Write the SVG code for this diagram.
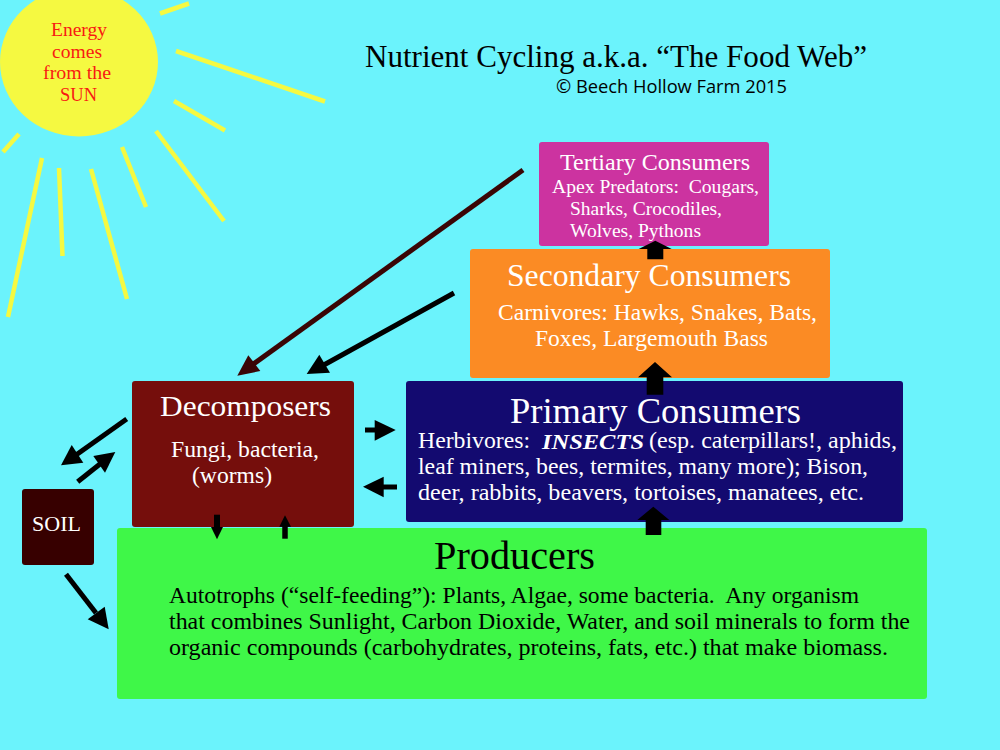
<svg xmlns="http://www.w3.org/2000/svg" width="1000" height="750" viewBox="0 0 1000 750">
<style>
text{font-family:"Liberation Serif","Times New Roman",serif;white-space:pre}
.w{fill:#fff}.k{fill:#000}
.ray{stroke:#f5f941;stroke-width:4.5;fill:none}
.box{stroke:none}
.c{stroke:#000;stroke-width:5;fill:none}
.h{fill:#000;stroke:none}
</style>
<rect width="1000" height="750" fill="#6bf3fc"/>
<g id="sun">
<ellipse cx="79" cy="62" rx="79" ry="74.5" fill="#f5f941"/>
<g font-size="19" fill="#f81a12">
<text x="51" y="36" textLength="56" lengthAdjust="spacingAndGlyphs">Energy</text>
<text x="52" y="58" textLength="50" lengthAdjust="spacingAndGlyphs">comes</text>
<text x="43" y="79" textLength="68" lengthAdjust="spacingAndGlyphs">from the</text>
<text x="60" y="101" textLength="37" lengthAdjust="spacingAndGlyphs">SUN</text>
</g>
</g>
<g id="rays">
<line class="ray" x1="160" y1="13.5" x2="189" y2="3.5"/>
<line class="ray" x1="176" y1="51" x2="325" y2="101.5"/>
<line class="ray" x1="174" y1="101" x2="225" y2="130.5"/>
<line class="ray" x1="156" y1="131" x2="224" y2="221"/>
<line class="ray" x1="122" y1="147" x2="146" y2="207"/>
<line class="ray" x1="91" y1="169" x2="127" y2="299"/>
<line class="ray" x1="59" y1="168" x2="62.5" y2="256"/>
<line class="ray" x1="42" y1="158" x2="8" y2="317"/>
<line class="ray" x1="19" y1="134" x2="3" y2="152"/>
</g>
<g id="title" class="k">
<text x="365" y="67" font-size="32" textLength="502" lengthAdjust="spacingAndGlyphs">Nutrient Cycling a.k.a. “The Food Web”</text>
<text x="556" y="93" font-size="18.5" textLength="231" lengthAdjust="spacingAndGlyphs" style="font-family:'Open Sans','Noto Sans',sans-serif">© Beech Hollow Farm 2015</text>
</g>
<g id="producers">
<rect class="box" x="117" y="528" width="810" height="171" rx="3" fill="#3ff748"/>
<text class="k" x="434" y="569" font-size="39" textLength="161" lengthAdjust="spacingAndGlyphs">Producers</text>
<g class="k" font-size="23">
<text x="169" y="603" textLength="690" lengthAdjust="spacingAndGlyphs">Autotrophs (“self-feeding”): Plants, Algae, some bacteria.  Any organism</text>
<text x="169" y="629" textLength="741" lengthAdjust="spacingAndGlyphs">that combines Sunlight, Carbon Dioxide, Water, and soil minerals to form the</text>
<text x="169" y="655" textLength="719" lengthAdjust="spacingAndGlyphs">organic compounds (carbohydrates, proteins, fats, etc.) that make biomass.</text>
</g>
</g>
<g id="primary-consumers">
<rect class="box" x="406" y="381" width="497" height="141" rx="3" fill="#130a70"/>
<text class="w" x="510" y="422.5" font-size="35" textLength="291" lengthAdjust="spacingAndGlyphs">Primary Consumers</text>
<g class="w" font-size="23">
<text x="418" y="448" textLength="112" lengthAdjust="spacingAndGlyphs">Herbivores:</text>
<text x="542" y="448.5" textLength="102" lengthAdjust="spacingAndGlyphs" font-weight="bold" font-style="italic" font-size="22">INSECTS</text>
<text x="649" y="448" textLength="248" lengthAdjust="spacingAndGlyphs">(esp. caterpillars!, aphids,</text>
<text x="418" y="474" textLength="450" lengthAdjust="spacingAndGlyphs">leaf miners, bees, termites, many more); Bison,</text>
<text x="418" y="500" textLength="446" lengthAdjust="spacingAndGlyphs">deer, rabbits, beavers, tortoises, manatees, etc.</text>
</g>
</g>
<g id="secondary-consumers">
<rect class="box" x="470" y="249" width="360" height="129" rx="3" fill="#fb8b24"/>
<text class="w" x="507" y="286" font-size="31" textLength="284" lengthAdjust="spacingAndGlyphs">Secondary Consumers</text>
<g class="w" font-size="23">
<text x="498" y="320" textLength="319" lengthAdjust="spacingAndGlyphs">Carnivores: Hawks, Snakes, Bats,</text>
<text x="535" y="346" textLength="233" lengthAdjust="spacingAndGlyphs">Foxes, Largemouth Bass</text>
</g>
</g>
<g id="tertiary-consumers">
<rect class="box" x="539" y="142" width="230" height="104" rx="3" fill="#cc33a0"/>
<text class="w" x="560" y="170" font-size="23" textLength="190" lengthAdjust="spacingAndGlyphs">Tertiary Consumers</text>
<g class="w" font-size="19.5">
<text x="552" y="193" textLength="207" lengthAdjust="spacingAndGlyphs">Apex Predators:  Cougars,</text>
<text x="570" y="215" textLength="152" lengthAdjust="spacingAndGlyphs">Sharks, Crocodiles,</text>
<text x="570" y="237" textLength="131" lengthAdjust="spacingAndGlyphs">Wolves, Pythons</text>
</g>
</g>
<g id="decomposers">
<rect class="box" x="132" y="381" width="222" height="146" rx="3" fill="#750e0c"/>
<text class="w" x="160" y="415.5" font-size="29" textLength="171" lengthAdjust="spacingAndGlyphs">Decomposers</text>
<g class="w" font-size="23">
<text x="171" y="457" textLength="148" lengthAdjust="spacingAndGlyphs">Fungi, bacteria,</text>
<text x="192" y="483" textLength="80" lengthAdjust="spacingAndGlyphs">(worms)</text>
</g>
</g>
<g id="soil">
<rect class="box" x="22" y="489" width="72" height="76" rx="3" fill="#370000"/>
<text class="w" x="32" y="531" font-size="21" textLength="49" lengthAdjust="spacingAndGlyphs">SOIL</text>
</g>
<g id="connectors">
<line x1="523" y1="170" x2="252" y2="365" stroke="#3a0505" stroke-width="5"/>
<polygon points="237.3,375.7 248.3,355.3 260.3,371" fill="#3a0505"/>
<line class="c" x1="454" y1="293" x2="322" y2="366"/>
<polygon class="h" points="306.7,374 319.3,354.7 330,372.7"/>
<line class="c" x1="126.7" y1="419" x2="76" y2="455"/>
<polygon class="h" points="61,465.3 71.7,445 83.3,462.7"/>
<line class="c" x1="77.7" y1="481.7" x2="100" y2="464"/>
<polygon class="h" points="115.3,452 93.3,456 105,472.7"/>
<line class="c" x1="66" y1="574.3" x2="96" y2="613"/>
<polygon class="h" points="108.7,629.3 104.7,606.7 87.7,619.3"/>
<line class="c" x1="365" y1="430" x2="376" y2="430"/>
<polygon class="h" points="395.7,430 374.7,420 374.7,440.7"/>
<line class="c" x1="397" y1="487" x2="383" y2="487"/>
<polygon class="h" points="363,486.7 383.7,476.7 383.7,497.3"/>
<line class="c" x1="217" y1="514.7" x2="217" y2="528" style="stroke-width:6"/>
<polygon class="h" points="211,527 223,527 217,539.3"/>
<line class="c" x1="285" y1="538.7" x2="285" y2="526" style="stroke-width:5.5"/>
<polygon class="h" points="285,515.3 279.3,526.7 291,526.7"/>
<polygon class="h" points="655.3,240.7 671.7,249 663.3,249 663.3,259.3 647.3,259.3 647.3,249 638.7,249"/>
<polygon class="h" points="655,362 672,377.3 663.3,377.3 663.3,394.7 646.7,394.7 646.7,377.3 638,377.3"/>
<polygon class="h" points="653.3,506.7 669.3,520 661.3,520 661.3,535 645.7,535 645.7,520 637.3,520"/>
</g>
</svg>
